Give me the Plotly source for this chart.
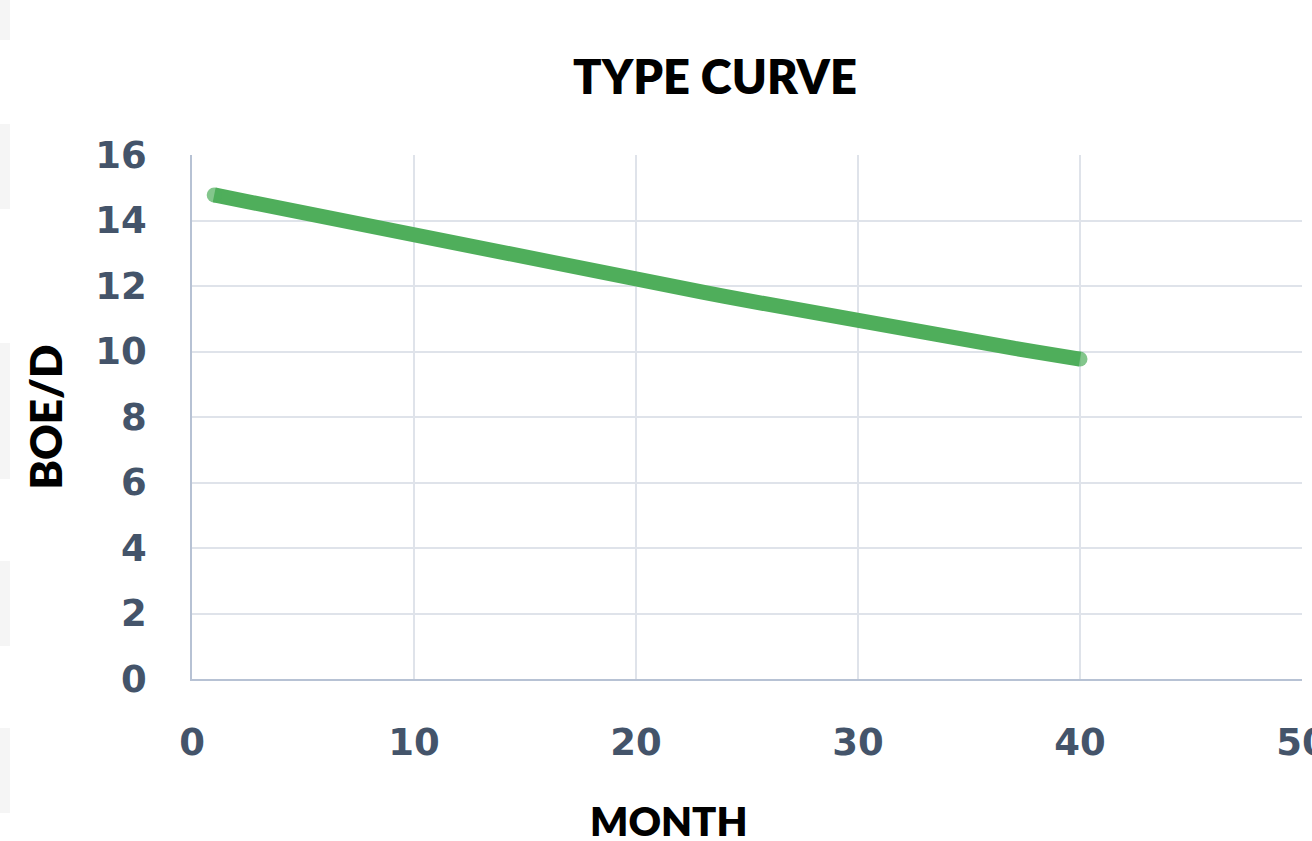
import plotly.graph_objects as go

# Monthly production type curve
months = list(range(1, 41))
boe_per_day = [
    14.78, 14.64, 14.50, 14.36, 14.22, 14.08, 13.94, 13.80, 13.66, 13.53,
    13.40, 13.27, 13.14, 13.00, 12.87, 12.74, 12.60, 12.46, 12.33, 12.20,
    12.07, 11.94, 11.81, 11.68, 11.55, 11.42, 11.29, 11.16, 11.03, 10.90,
    10.78, 10.66, 10.55, 10.44, 10.33, 10.22, 10.10, 9.99, 9.88, 9.77,
]

x_ticks = [0, 10, 20, 30, 40, 50]
y_ticks = [0, 2, 4, 6, 8, 10, 12, 14, 16]

LINE_GREEN = "#4fae5b"
TICK_COLOR = "#44546a"
GRID_COLOR = "#dfe3ea"
AXIS_COLOR = "#b7c2d4"
FONT = "Lato"
TICK_FONT = "DejaVu Sans"

LINE_W = 15
# round ends on the curve: markers only at the first and last points
end_sizes = [LINE_W] + [0] * (len(months) - 2) + [LINE_W]

fig = go.Figure()
fig.add_trace(go.Scatter(
    x=months,
    y=boe_per_day,
    mode="lines+markers",
    line=dict(color=LINE_GREEN, width=LINE_W),
    marker=dict(color=LINE_GREEN, size=end_sizes, line=dict(width=0)),
    hoverinfo="x+y",
    showlegend=False,
))

# light page strips along the left edge
strips = [(0, 40), (124, 209), (343, 479), (561, 646), (728, 813)]
plot_top = 155
for top, bottom in strips:
    fig.add_shape(
        type="rect", layer="below",
        xref="paper", yref="paper",
        xsizemode="pixel", ysizemode="pixel",
        xanchor=0, yanchor=1,
        x0=-192, x1=-182,
        y0=plot_top - top, y1=plot_top - bottom,
        fillcolor="#f5f5f5", line=dict(width=0),
    )

# x-axis caption, set slightly left of the plot centre
fig.add_annotation(
    text="MONTH",
    xref="paper", yref="paper",
    x=(669 - 192) / 1110, y=-(821 - 679) / 524,
    xanchor="center", yanchor="middle",
    showarrow=False,
    font=dict(family=FONT, size=40, color="black", weight=800),
)

fig.update_layout(
    width=1312,
    height=841,
    margin=dict(l=192, r=10, t=155, b=162),
    paper_bgcolor="white",
    plot_bgcolor="white",
    font=dict(family=FONT),
    title=dict(
        text="TYPE CURVE",
        x=715 / 1312,
        xanchor="center",
        xref="container",
        y=1 - 78 / 841,
        yref="container",
        yanchor="middle",
        font=dict(family=FONT, size=47, color="black", weight=800),
    ),
)

fig.update_xaxes(
    range=[0, 50],
    tickvals=x_ticks,
    ticktext=[str(v) for v in x_ticks],
    showgrid=True, gridcolor=GRID_COLOR, gridwidth=1.5,
    showline=True, linecolor=AXIS_COLOR, linewidth=1.5,
    zeroline=False,
    ticks="",
    automargin=False,
    ticklabeloverflow="allow",
    ticklabelstandoff=30,
    tickfont=dict(family=TICK_FONT, size=37, color=TICK_COLOR, weight=800),
)

fig.update_yaxes(
    range=[0, 16],
    tickvals=y_ticks,
    ticktext=[str(v) for v in y_ticks],
    showgrid=True, gridcolor=GRID_COLOR, gridwidth=1.5,
    showline=True, linecolor=AXIS_COLOR, linewidth=1.5,
    zeroline=False,
    ticks="",
    automargin=False,
    ticklabeloverflow="allow",
    ticklabelstandoff=36,
    tickfont=dict(family=TICK_FONT, size=37, color=TICK_COLOR, weight=800),
    title=dict(
        text="BOE/D",
        standoff=19,
        font=dict(family=FONT, size=44, color="black", weight=800),
    ),
)

fig.write_html("out.html")
